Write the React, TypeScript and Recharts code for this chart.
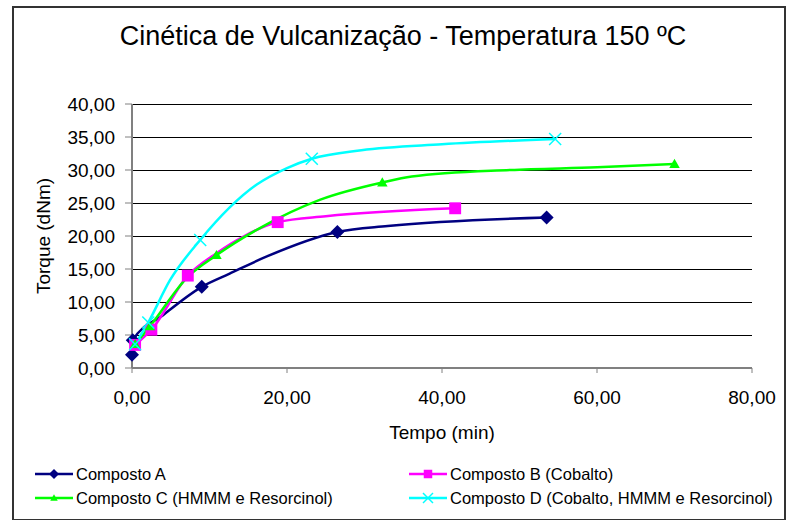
import { LineChart, Line, XAxis, YAxis, CartesianGrid, Label } from 'recharts';

// [tempo (min), torque (dNm), marker shown?]
const compostoA: [number, number, boolean][] = [
  [0, 2.0, true], [0.1, 4.2, true], [4.0, 8.0, false], [9.0, 12.3, true],
  [12.6, 14.3, false], [17.4, 16.9, false], [26.5, 20.6, true], [33, 21.5, false], [53.5, 22.8, true],
];
const compostoB: [number, number, boolean][] = [
  [0.4, 3.5, true], [2.5, 5.8, true], [7.2, 14.0, true], [10.9, 17.4, false], [14.5, 20.0, false],
  [18.8, 22.1, true], [25, 23.0, false], [41.7, 24.2, true],
];
const compostoC: [number, number, boolean][] = [
  [0.4, 3.6, true], [2.3, 6.3, true], [7.2, 13.8, false], [10.9, 17.1, true], [16.5, 21.2, false],
  [24.3, 25.5, false], [32.3, 28.1, true], [36.1, 29.0, false], [48.8, 30.0, false], [60, 30.4, false], [70, 30.9, true],
];
const compostoD: [number, number, boolean][] = [
  [0.4, 3.6, true], [2.1, 6.9, true], [4.9, 13.3, false], [8.8, 19.4, true], [16.1, 27.8, false],
  [20, 30.3, false], [23.2, 31.7, true], [29.6, 33.0, false], [40, 33.9, false], [54.6, 34.7, true],
];

const xTicks = [0, 20, 40, 60, 80];
const yTicks = [0, 5, 10, 15, 20, 25, 30, 35, 40];

const seriesNames = [
  'Composto A',
  'Composto B (Cobalto)',
  'Composto C (HMMM e Resorcinol)',
  'Composto D (Cobalto, HMMM e Resorcinol)',
];
const seriesColors = ['#000080', '#FF00FF', '#00FF00', '#00FFFF'];
const seriesShapes = ['diamond', 'square', 'triangle', 'cross'];
const seriesData = [compostoA, compostoB, compostoC, compostoD];

const FONT = '"Liberation Sans", Arial, sans-serif';
const fmt = (v: number) => v.toFixed(2).replace('.', ',');

function Marker({ shape, color, cx, cy, s }: { shape: string; color: string; cx: number; cy: number; s: number }) {
  if (shape === 'diamond') {
    return <polygon points={`${cx},${cy - s} ${cx + s},${cy} ${cx},${cy + s} ${cx - s},${cy}`} fill={color} />;
  }
  if (shape === 'square') {
    return <rect x={cx - s * 0.85} y={cy - s * 0.85} width={s * 1.7} height={s * 1.7} fill={color} />;
  }
  if (shape === 'triangle') {
    return <polygon points={`${cx},${cy - s * 0.75} ${cx + s * 0.75},${cy + s * 0.55} ${cx - s * 0.75},${cy + s * 0.55}`} fill={color} />;
  }
  return (
    <g stroke={color} strokeWidth={1.5}>
      <line x1={cx - s} y1={cy - s} x2={cx + s} y2={cy + s} />
      <line x1={cx - s} y1={cy + s} x2={cx + s} y2={cy - s} />
    </g>
  );
}

const makeDot = (shape: string, color: string) => (props: any) => {
  const { cx, cy, payload, index } = props;
  if (!payload || !payload.m) return <g key={`d-${index}`} />;
  return (
    <g key={`d-${index}`}>
      <Marker shape={shape} color={color} cx={cx} cy={cy} s={shape === 'cross' ? 6 : 7} />
    </g>
  );
};

export default function App() {
  const lines = seriesData.map((arr) => arr.map(([t, v, m]) => ({ t, v, m })));

  return (
    <div style={{ position: 'absolute', left: 0, top: 0, width: 789, height: 520, background: '#fff' }}>
      <div
        style={{
          position: 'absolute', left: 12, top: 6, width: 770, height: 511,
          border: '2px solid #333', boxSizing: 'content-box',
        }}
      />
      <div
        style={{
          position: 'absolute', left: 0, top: 21, width: 806, textAlign: 'center',
          fontFamily: FONT, fontSize: 27, color: '#000',
        }}
      >
        Cinética de Vulcanização - Temperatura 150 ºC
      </div>
      <div style={{ position: 'absolute', left: 0, top: 0 }}>
        <LineChart width={789} height={520} margin={{ top: 104, right: 37, bottom: 0, left: 0 }}>
          <CartesianGrid vertical={false} stroke="#000" strokeWidth={1} shapeRendering="crispEdges" />
          <XAxis
            type="number"
            dataKey="t"
            domain={[0, 80]}
            ticks={xTicks}
            tickFormatter={fmt}
            height={152}
            tickSize={5}
            tickMargin={18}
            axisLine={{ stroke: '#808080', strokeWidth: 2 }}
            tickLine={{ stroke: '#808080' }}
            tick={{ fill: '#000', fontSize: 19, fontFamily: FONT }}
            allowDuplicatedCategory={false}
          >
            <Label
              content={() => (
                <text x={442} y={439} textAnchor="middle" fontSize={19} fontFamily={FONT} fill="#000">
                  Tempo (min)
                </text>
              )}
            />
          </XAxis>
          <YAxis
            type="number"
            domain={[0, 40]}
            ticks={yTicks}
            tickFormatter={fmt}
            width={132}
            tickSize={7}
            tickMargin={10}
            axisLine={{ stroke: '#808080', strokeWidth: 2 }}
            tickLine={{ stroke: '#808080' }}
            tick={{ fill: '#000', fontSize: 19, fontFamily: FONT }}
          >
            <Label
              content={() => (
                <text
                  x={50}
                  y={236}
                  textAnchor="middle"
                  fontSize={19}
                  fontFamily={FONT}
                  fill="#000"
                  transform="rotate(-90 50 236)"
                >
                  Torque (dNm)
                </text>
              )}
            />
          </YAxis>
          {lines.map((d, i) => (
            <Line
              key={seriesNames[i]}
              data={d}
              dataKey="v"
              name={seriesNames[i]}
              type="monotone"
              stroke={seriesColors[i]}
              strokeWidth={2.5}
              dot={makeDot(seriesShapes[i], seriesColors[i])}
              activeDot={false}
              isAnimationActive={false}
            />
          ))}
        </LineChart>
      </div>
      <div style={{ position: 'absolute', left: 35, top: 462, width: 760, fontFamily: FONT, fontSize: 16.5 }}>
        {seriesNames.map((name, i) => (
          <div
            key={name}
            style={{
              position: 'absolute',
              left: i % 2 === 0 ? 0 : 374,
              top: i < 2 ? 0 : 24,
              display: 'flex',
              alignItems: 'center',
              height: 24,
              whiteSpace: 'nowrap',
            }}
          >
            <svg width={40} height={14} style={{ marginRight: 1 }}>
              <line x1={0} y1={7} x2={38} y2={7} stroke={seriesColors[i]} strokeWidth={2.5} />
              <Marker shape={seriesShapes[i]} color={seriesColors[i]} cx={19} cy={7} s={5} />
            </svg>
            <span>{name}</span>
          </div>
        ))}
      </div>
    </div>
  );
}
